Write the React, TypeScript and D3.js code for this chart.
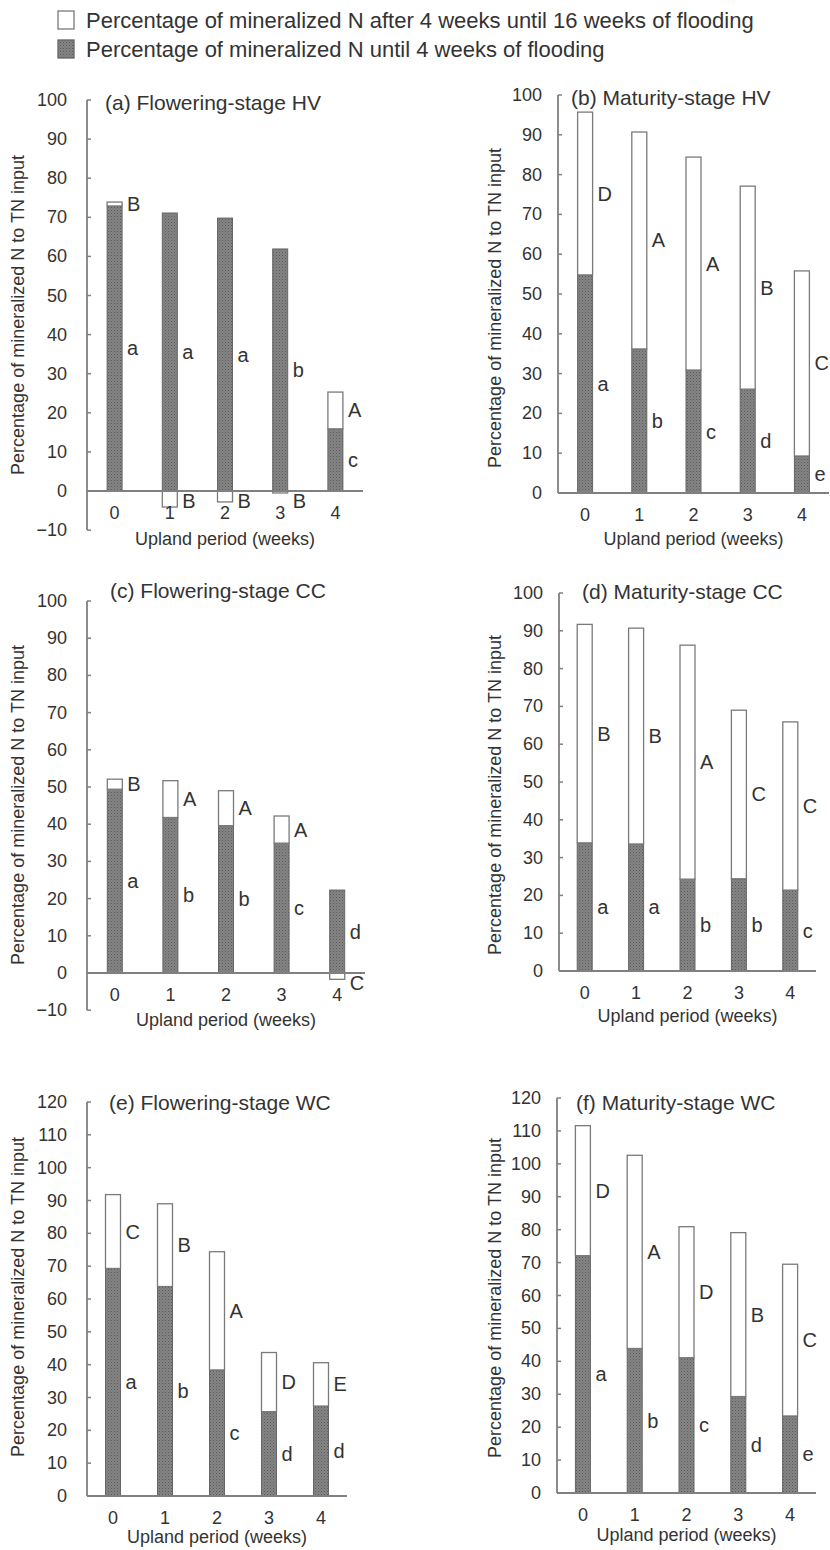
import React from "react";
import * as d3 from "d3";

// upland period categories
const weeks = ["0", "1", "2", "3", "4"];

const titles = [
  "(a) Flowering-stage HV",
  "(b) Maturity-stage HV",
  "(c) Flowering-stage CC",
  "(d) Maturity-stage CC",
  "(e) Flowering-stage WC",
  "(f) Maturity-stage WC",
];

// % mineralized N until 4 weeks of flooding (grey part)
const until4A = [72.9, 71.1, 69.8, 61.9, 15.9];
const until4B = [54.8, 36.2, 30.9, 26.1, 9.3];
const until4C = [49.4, 41.8, 39.6, 34.9, 22.3];
const until4D = [33.9, 33.6, 24.3, 24.4, 21.4];
const until4E = [69.3, 63.8, 38.4, 25.7, 27.4];
const until4F = [72.1, 43.9, 41.1, 29.3, 23.4];

// % mineralized N after 4 weeks until 16 weeks (white part, can be negative)
const after4A = [1.0, -4.1, -2.8, -0.5, 9.4];
const after4B = [40.9, 54.5, 53.5, 51.0, 46.5];
const after4C = [2.7, 9.9, 9.4, 7.3, -1.7];
const after4D = [57.8, 57.1, 61.9, 44.6, 44.5];
const after4E = [22.5, 25.2, 36.0, 18.0, 13.2];
const after4F = [39.5, 58.7, 39.8, 49.8, 46.1];

// significance letters
const lowerA = ["a", "a", "a", "b", "c"];
const lowerB = ["a", "b", "c", "d", "e"];
const lowerC = ["a", "b", "b", "c", "d"];
const lowerD = ["a", "a", "b", "b", "c"];
const lowerE = ["a", "b", "c", "d", "d"];
const lowerF = ["a", "b", "c", "d", "e"];

const upperA = ["B", "B", "B", "B", "A"];
const upperB = ["D", "A", "A", "B", "C"];
const upperC = ["B", "A", "A", "A", "C"];
const upperD = ["B", "B", "A", "C", "C"];
const upperE = ["C", "B", "A", "D", "E"];
const upperF = ["D", "A", "D", "B", "C"];

const yMins = [-10, 0, -10, 0, 0, 0];
const yMaxs = [100, 100, 100, 100, 120, 120];

const legendLabels = [
  "Percentage of mineralized N after 4 weeks until 16 weeks of flooding",
  "Percentage of mineralized N until 4 weeks of flooding",
];

const yTitle = "Percentage of mineralized N to TN input";
const xTitle = "Upland period (weeks)";

// page layout of each panel
const layouts = [
  { left: 87, right: 363, top: 100, zero: 491, gap: 20, titleX: 105, titleY: 102, yLabX: 18, yLabY: 315, xLabY: 539 },
  { left: 558, right: 829, top: 95, zero: 493, gap: 16, titleX: 571, titleY: 97, yLabX: 495, yLabY: 308, xLabY: 539 },
  { left: 87, right: 365, top: 601, zero: 973, gap: 20, titleX: 110, titleY: 590, yLabX: 18, yLabY: 805, xLabY: 1020 },
  { left: 559, right: 816, top: 593, zero: 971, gap: 16, titleX: 582, titleY: 591, yLabX: 495, yLabY: 795, xLabY: 1016 },
  { left: 87, right: 347, top: 1102, zero: 1496, gap: 20, titleX: 109, titleY: 1102, yLabX: 18, yLabY: 1297, xLabY: 1537 },
  { left: 557, right: 816, top: 1098, zero: 1493, gap: 16, titleX: 576, titleY: 1102, yLabX: 495, yLabY: 1298, xLabY: 1535 },
];

const panels = [
  { gray: until4A, white: after4A, lower: lowerA, upper: upperA },
  { gray: until4B, white: after4B, lower: lowerB, upper: upperB },
  { gray: until4C, white: after4C, lower: lowerC, upper: upperC },
  { gray: until4D, white: after4D, lower: lowerD, upper: upperD },
  { gray: until4E, white: after4E, lower: lowerE, upper: upperE },
  { gray: until4F, white: after4F, lower: lowerF, upper: upperF },
];

const FONT = "'Liberation Sans', Arial, Helvetica, sans-serif";
const TEXT = "#333";
const AXIS = "#808080";
const BAR_W = 15;

function Panel({ idx }: { idx: number }) {
  const lay = layouts[idx];
  const p = panels[idx];
  const yMin = yMins[idx];
  const yMax = yMaxs[idx];

  const y = d3.scaleLinear().domain([0, yMax]).range([lay.zero, lay.top]);
  const x = d3.scalePoint<string>().domain(weeks).range([lay.left, lay.right]).padding(0.5);
  const ticks = d3.range(yMin, yMax + 1, 10);
  const fmt = d3.format("d");

  return (
    <g>
      {/* bars */}
      {weeks.map((w, i) => {
        const cx = x(w) as number;
        const g = p.gray[i];
        const wv = p.white[i];
        const wTop = wv >= 0 ? y(g + wv) : y(0);
        const wBot = wv >= 0 ? y(g) : y(wv);
        const upperY = wv >= 0 ? y(g + wv / 2) : y(0) + 10;
        return (
          <g key={w}>
            <rect x={cx - BAR_W / 2} y={y(g)} width={BAR_W} height={y(0) - y(g)}
              fill="url(#stipple)" stroke="#666" strokeWidth={1} />
            <rect x={cx - BAR_W / 2} y={wTop} width={BAR_W} height={Math.max(0.6, wBot - wTop)}
              fill="#fff" stroke="#7a7a7a" strokeWidth={1.3} />
            <text x={cx + BAR_W / 2 + 5} y={y(g / 2)} dominantBaseline="central"
              fontSize={20} fill={TEXT}>{p.lower[i]}</text>
            <text x={cx + BAR_W / 2 + 5} y={upperY} dominantBaseline="central"
              fontSize={20} fill={TEXT}>{p.upper[i]}</text>
          </g>
        );
      })}

      {/* y axis */}
      <line x1={lay.left} x2={lay.left} y1={y(yMin)} y2={y(yMax)} stroke={AXIS} strokeWidth={1.8} />
      {ticks.map((t) => (
        <g key={t}>
          <line x1={lay.left} x2={lay.left + 4} y1={y(t)} y2={y(t)} stroke={AXIS} strokeWidth={1.5} />
          <text x={lay.left - lay.gap} y={y(t)} textAnchor="end" dominantBaseline="central"
            fontSize={18} fill={TEXT}>{fmt(t)}</text>
        </g>
      ))}

      {/* x axis on the zero line */}
      <line x1={lay.left} x2={lay.right} y1={y(0)} y2={y(0)} stroke={AXIS} strokeWidth={1.8} />
      {weeks.map((w) => (
        <text key={w} x={x(w)} y={y(0) + 22} textAnchor="middle" dominantBaseline="central"
          fontSize={18} fill={TEXT}>{w}</text>
      ))}

      <text x={(lay.left + lay.right) / 2} y={lay.xLabY} textAnchor="middle" dominantBaseline="central"
        fontSize={18} fill={TEXT}>{xTitle}</text>
      <text transform={`translate(${lay.yLabX},${lay.yLabY}) rotate(-90)`} textAnchor="middle"
        dominantBaseline="central" fontSize={18} fill={TEXT}>{yTitle}</text>
      <text x={lay.titleX} y={lay.titleY} dominantBaseline="central" fontSize={21} fill={TEXT}>
        {titles[idx]}
      </text>
    </g>
  );
}

export default function App() {
  return (
    <svg width={830} height={1550} fontFamily={FONT}
      style={{ position: "absolute", left: 0, top: 0, display: "block", background: "#fff" }}>
      <defs>
        <pattern id="stipple" width={3} height={3} patternUnits="userSpaceOnUse">
          <rect width={3} height={3} fill="#858585" />
          <rect x={0} y={0} width={1} height={1} fill="#5a5a5a" />
          <rect x={1.5} y={1.5} width={1} height={1} fill="#686868" />
        </pattern>
      </defs>
      <rect width={830} height={1550} fill="#fff" />

      {/* legend */}
      {legendLabels.map((lbl, i) => (
        <g key={lbl}>
          <rect x={58} y={11 + i * 29} width={16} height={18}
            fill={i === 0 ? "#fff" : "url(#stipple)"} stroke={i === 0 ? "#7a7a7a" : "#666"} strokeWidth={1.3} />
          <text x={86} y={20 + i * 29} dominantBaseline="central" fontSize={22} fill={TEXT}>{lbl}</text>
        </g>
      ))}

      {layouts.map((_, i) => <Panel key={i} idx={i} />)}
    </svg>
  );
}
